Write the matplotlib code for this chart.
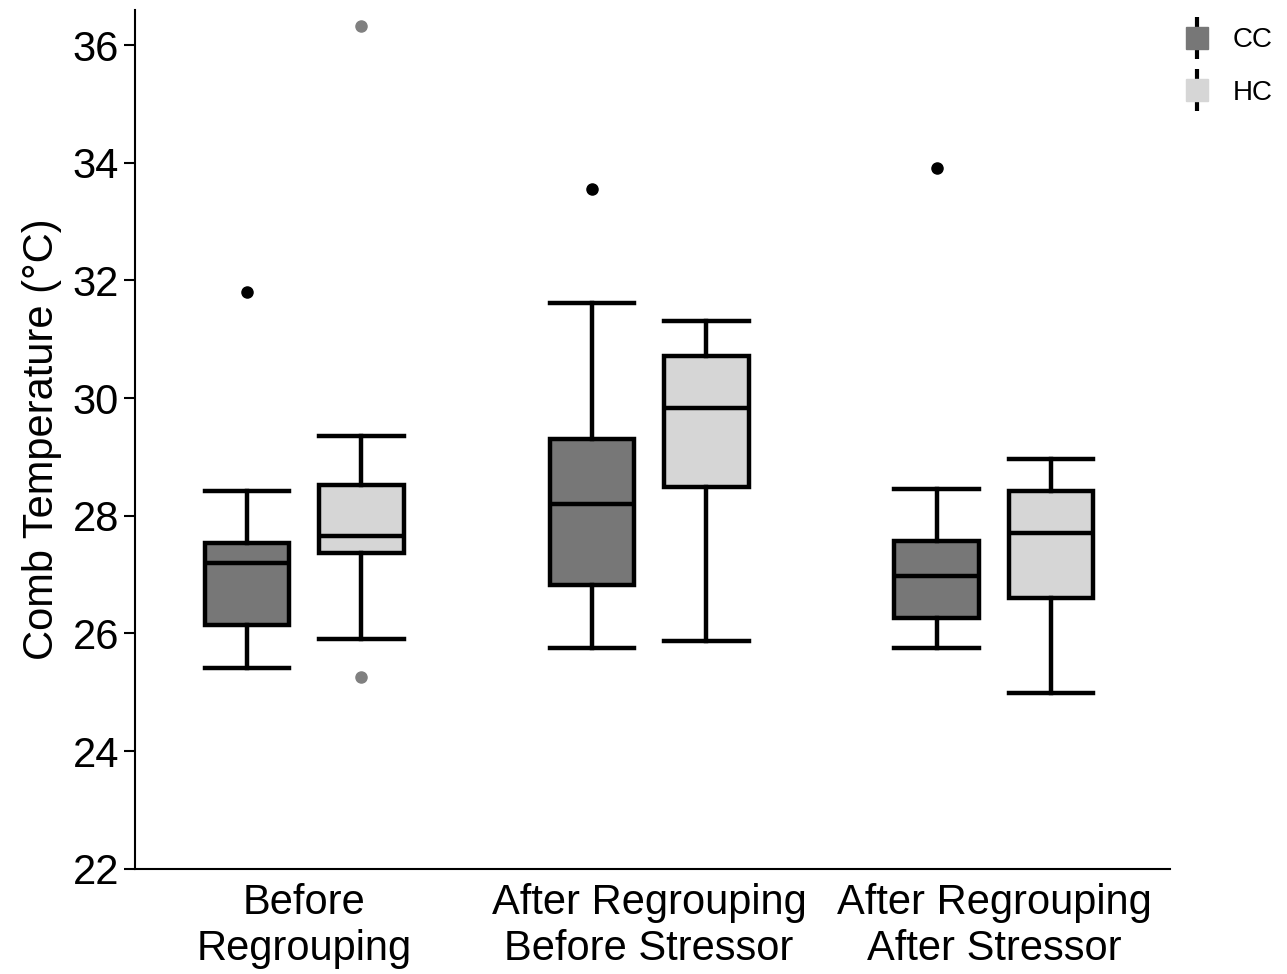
import matplotlib.pyplot as plt
from matplotlib.lines import Line2D

plt.rcParams['font.family'] = ['Liberation Sans', 'DejaVu Sans']

# Data
groups = ["Before\nRegrouping", "After Regrouping\nBefore Stressor", "After Regrouping\nAfter Stressor"]
series = ["CC", "HC"]

cc_low = [25.41, 25.75, 25.75]
cc_q1 = [26.15, 26.83, 26.26]
cc_med = [27.20, 28.20, 26.98]
cc_q3 = [27.54, 29.31, 27.57]
cc_high = [28.42, 31.62, 28.46]
cc_out = [[31.80], [33.55], [33.91]]

hc_low = [25.91, 25.87, 24.99]
hc_q1 = [27.37, 28.49, 26.60]
hc_med = [27.66, 29.83, 27.71]
hc_q3 = [28.52, 30.72, 28.42]
hc_high = [29.36, 31.31, 28.97]
hc_out = [[36.32, 25.26], [], []]

cc_color = "#777777"
hc_color = "#d6d6d6"

fig = plt.figure(figsize=(12.87, 9.74), dpi=100)
ax = fig.add_axes([0.105, 0.108, 0.804, 0.882])


def make_stats(low, q1, med, q3, high, out):
    return [dict(whislo=a, q1=b, med=c, q3=d, whishi=e, fliers=f)
            for a, b, c, d, e, f in zip(low, q1, med, q3, high, out)]


offset = 0.166
width = 0.245
lw = 3.2
for stats, color, flier_color, sign in [
        (make_stats(cc_low, cc_q1, cc_med, cc_q3, cc_high, cc_out), cc_color, "black", -1),
        (make_stats(hc_low, hc_q1, hc_med, hc_q3, hc_high, hc_out), hc_color, "#808080", 1)]:
    pos = [i + sign * offset for i in range(len(groups))]
    ax.bxp(stats, positions=pos, widths=width, patch_artist=True,
           boxprops=dict(facecolor=color, edgecolor="black", linewidth=lw),
           medianprops=dict(color="black", linewidth=lw),
           whiskerprops=dict(color="black", linewidth=lw),
           capprops=dict(color="black", linewidth=lw),
           capwidths=width,
           flierprops=dict(marker="o", markerfacecolor=flier_color,
                           markeredgecolor=flier_color, markersize=8))

ax.set_xlim(-0.49, 2.51)
ax.set_ylim(22, 36.6)
ax.set_yticks(range(22, 37, 2))
ax.set_xticks(range(len(groups)))
ax.set_xticklabels(groups, fontsize=30, linespacing=1.2)
ax.tick_params(axis='y', labelsize=30, width=1.5, length=8)
ax.tick_params(axis='x', length=0, pad=10)
ax.set_ylabel("Comb Temperature (°C)", fontsize=30, labelpad=8)
for s in ["top", "right"]:
    ax.spines[s].set_visible(False)
for s in ["left", "bottom"]:
    ax.spines[s].set_linewidth(1.5)

handles = []
for color in [cc_color, hc_color]:
    handles.append((Line2D([], [], color="black", marker="|", markersize=30,
                           markeredgewidth=3, linestyle="none"),
                    Line2D([], [], color=color, marker="s", markersize=16,
                           linestyle="none")))
fig.legend(handles, series, loc="upper right", bbox_to_anchor=(1.004, 0.992),
           frameon=False, fontsize=20, handlelength=1.0, labelspacing=0.95,
           handletextpad=0.8, borderaxespad=0.3)

fig.savefig("out.png", dpi=100)
